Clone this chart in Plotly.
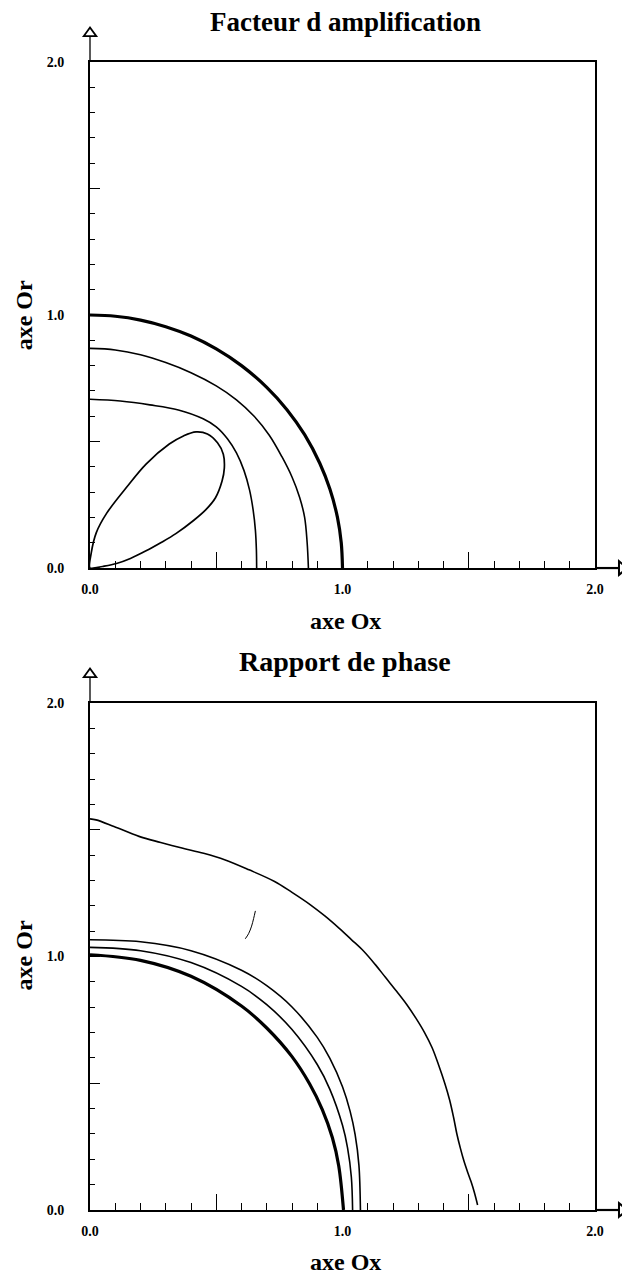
import plotly.graph_objects as go

# ---------------- data ----------------
tick_vals = [0.0, 0.5, 1.0, 1.5, 2.0]
tick_text = ["0.0", "", "1.0", "", "2.0"]

# Facteur d amplification
amp1_x = [0.00, 0.10, 0.20, 0.30, 0.40, 0.50, 0.60, 0.70, 0.78, 0.85, 0.91, 0.95, 0.98, 0.995, 1.00]
amp1_y = [1.00, 0.995, 0.98, 0.954, 0.917, 0.866, 0.80, 0.714, 0.626, 0.527, 0.414, 0.312, 0.20, 0.10, 0.00]

amp2_x = [0.00, 0.10, 0.20, 0.30, 0.40, 0.50, 0.58, 0.65, 0.71, 0.76, 0.80, 0.83, 0.85, 0.86, 0.865]
amp2_y = [0.868, 0.862, 0.843, 0.812, 0.772, 0.72, 0.665, 0.60, 0.525, 0.44, 0.36, 0.28, 0.20, 0.10, 0.00]

amp3_x = [0.00, 0.12, 0.237, 0.35, 0.448, 0.50, 0.545, 0.58, 0.61, 0.632, 0.646, 0.655, 0.659, 0.66]
amp3_y = [0.667, 0.66, 0.645, 0.625, 0.59, 0.558, 0.51, 0.455, 0.385, 0.308, 0.23, 0.15, 0.071, 0.00]

amp4_x = [0.0, 0.005, 0.025, 0.065, 0.144, 0.222, 0.314, 0.370, 0.420, 0.465, 0.505, 0.528, 0.532,
          0.523, 0.497, 0.460, 0.410, 0.34, 0.28, 0.222, 0.160, 0.105, 0.050, 0.020, 0.0]
amp4_y = [0.0, 0.06, 0.14, 0.215, 0.318, 0.411, 0.49, 0.522, 0.538, 0.530, 0.495, 0.45, 0.395,
          0.344, 0.278, 0.232, 0.188, 0.136, 0.10, 0.068, 0.038, 0.018, 0.006, 0.001, 0.0]

# Rapport de phase
ph1_x = [0.00, 0.20, 0.40, 0.60, 0.70, 0.80, 0.87, 0.92, 0.96, 0.985, 1.004]
ph1_y = [1.007, 0.985, 0.922, 0.805, 0.718, 0.605, 0.497, 0.396, 0.285, 0.175, 0.00]

ph2_x = [0.00, 0.20, 0.40, 0.60, 0.70, 0.80, 0.90, 0.95, 1.00, 1.02, 1.035, 1.04]
ph2_y = [1.036, 1.023, 0.976, 0.882, 0.81, 0.712, 0.574, 0.476, 0.334, 0.245, 0.13, 0.00]

ph3_x = [0.00, 0.20, 0.40, 0.60, 0.70, 0.80, 0.90, 0.95, 1.00, 1.03, 1.05, 1.065, 1.071]
ph3_y = [1.066, 1.058, 1.023, 0.946, 0.885, 0.801, 0.681, 0.598, 0.486, 0.39, 0.297, 0.177, 0.00]

ph4_x = [0.0, 0.024, 0.095, 0.194, 0.28, 0.364, 0.45, 0.533, 0.63, 0.731, 0.80, 0.873, 0.93, 0.986,
         1.035, 1.085, 1.13, 1.17, 1.215, 1.255, 1.29, 1.325, 1.355, 1.382, 1.405, 1.424,
         1.44, 1.453, 1.467, 1.481, 1.496, 1.509, 1.522, 1.535]
ph4_y = [1.543, 1.539, 1.513, 1.474, 1.45, 1.428, 1.407, 1.382, 1.342, 1.296, 1.253, 1.204, 1.16, 1.112,
         1.067, 1.02, 0.968, 0.918, 0.862, 0.81, 0.758, 0.70, 0.64, 0.568, 0.50, 0.435,
         0.365, 0.30, 0.243, 0.193, 0.148, 0.112, 0.07, 0.02]

mark_x = [0.655, 0.648, 0.640, 0.628, 0.615]
mark_y = [1.18, 1.15, 1.12, 1.09, 1.07]

# ---------------- figure ----------------
fig = go.Figure()


def add(x, y, xa, ya, w):
    fig.add_trace(go.Scatter(x=x, y=y, mode="lines", xaxis=xa, yaxis=ya,
                             line=dict(color="black", width=w, shape="spline", smoothing=1.0),
                             hoverinfo="skip", showlegend=False))


add(amp1_x, amp1_y, "x", "y", 3.2)
add(amp2_x, amp2_y, "x", "y", 1.6)
add(amp3_x, amp3_y, "x", "y", 1.6)
add(amp4_x, amp4_y, "x", "y", 1.7)

add(ph1_x, ph1_y, "x2", "y2", 3.2)
add(ph2_x, ph2_y, "x2", "y2", 1.6)
add(ph3_x, ph3_y, "x2", "y2", 1.6)
add(ph4_x, ph4_y, "x2", "y2", 1.6)
add(mark_x, mark_y, "x2", "y2", 1.0)

SERIF = "Liberation Serif"
tfont = dict(family=SERIF, size=14, color="black", weight="bold")


def xax(anchor):
    return dict(range=[0, 2], anchor=anchor, tickvals=tick_vals, ticktext=tick_text,
                ticks="inside", ticklen=16, tickwidth=1.3, tickcolor="black",
                minor=dict(dtick=0.1, tick0=0, ticks="inside", ticklen=7, tickwidth=1.2,
                           tickcolor="black"),
                showline=True, linecolor="black", linewidth=2.2, mirror=True,
                showgrid=False, zeroline=False, tickfont=tfont, ticklabelstandoff=7,
                fixedrange=True)


def yax(anchor, dom):
    return dict(range=[0, 2], anchor=anchor, domain=dom, tickvals=tick_vals, ticktext=tick_text,
                ticks="inside", ticklen=10, tickwidth=1.3, tickcolor="black",
                minor=dict(dtick=0.1, tick0=0, ticks="inside", ticklen=5, tickwidth=1.1,
                           tickcolor="black"),
                showline=True, linecolor="black", linewidth=1.8, mirror=True,
                showgrid=False, zeroline=False, tickfont=tfont, ticklabelstandoff=21,
                fixedrange=True)


shapes = []
for xr, yr in (("x domain", "y domain"), ("x2 domain", "y2 domain")):
    # vertical axis shaft and open arrow head
    shapes.append(dict(type="line", xref=xr, yref=yr, x0=0, x1=0, y0=1, y1=1.051,
                       line=dict(color="black", width=1.3)))
    shapes.append(dict(type="path", xref=xr, yref=yr,
                       path="M -0.0125,1.051 L 0,1.068 L 0.0125,1.051 Z",
                       fillcolor="white", line=dict(color="black", width=1.8)))
    # horizontal axis shaft and open arrow head
    shapes.append(dict(type="line", xref=xr, yref=yr, x0=1, x1=1.0475, y0=0, y1=0,
                       line=dict(color="black", width=2.2)))
    shapes.append(dict(type="path", xref=xr, yref=yr,
                       path="M 1.0475,-0.0135 L 1.064,0 L 1.0475,0.0135 Z",
                       fillcolor="white", line=dict(color="black", width=2)))

title_font = dict(family=SERIF, size=27, color="black", weight="bold")
lab = dict(family=SERIF, size=24, color="black", weight="bold")
annotations = [
    dict(text="Facteur d amplification", x=0.505, y=1.035, xref="paper", yref="paper",
         showarrow=False, font=title_font, xanchor="center", yanchor="middle"),
    dict(text="axe Ox", x=0.505, y=0.5135, xref="paper", yref="paper",
         showarrow=False, font=lab, xanchor="center", yanchor="middle"),
    dict(text="Rapport de phase", x=0.505, y=0.4774, xref="paper", yref="paper",
         showarrow=False, font=dict(family=SERIF, size=28, color="black", weight="bold"),
         xanchor="center", yanchor="middle"),
    dict(text="axe Ox", x=0.505, y=-0.0453, xref="paper", yref="paper",
         showarrow=False, font=lab, xanchor="center", yanchor="middle"),
    dict(text="axe Or", x=-0.13, y=0.7796, xref="paper", yref="paper", textangle=-90,
         showarrow=False, font=lab, xanchor="center", yanchor="middle"),
    dict(text="axe Or", x=-0.13, y=0.2221, xref="paper", yref="paper", textangle=-90,
         showarrow=False, font=lab, xanchor="center", yanchor="middle"),
]

fig.update_layout(
    width=630, height=1274,
    margin=dict(l=82, r=43, t=54, b=72),
    paper_bgcolor="white", plot_bgcolor="white",
    xaxis=xax("y"), yaxis=yax("x", [0.5592, 1.0]),
    xaxis2=xax("y2"), yaxis2=yax("x2", [0.0, 0.4416]),
    shapes=shapes, annotations=annotations,
    showlegend=False,
)

fig.write_html("out.html")
